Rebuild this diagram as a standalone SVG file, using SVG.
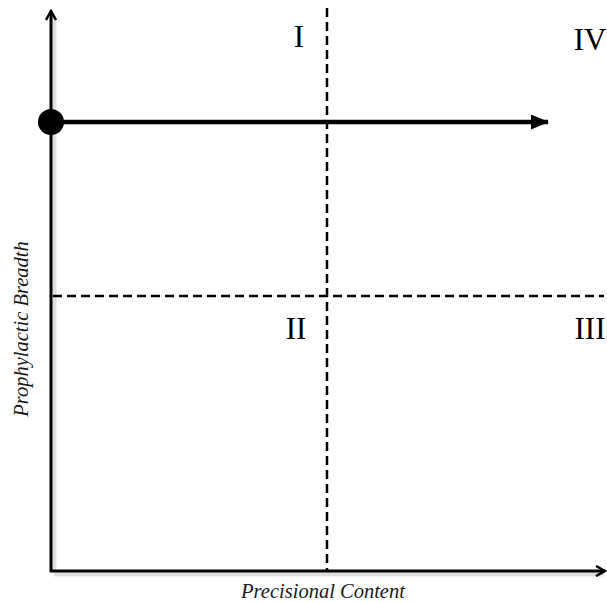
<svg xmlns="http://www.w3.org/2000/svg" width="607" height="603" viewBox="0 0 607 603">
<defs>
<style>
.axis{stroke:#000;stroke-width:3;fill:none}
.dash{stroke:#000;stroke-width:2.5;stroke-dasharray:9 5;fill:none}
.quad{font-family:"Liberation Serif",serif;font-size:31px;fill:#000}
.lab{font-family:"Liberation Serif",serif;font-style:italic;font-size:20.5px;fill:#1a1a1a}
.shadow{stroke:#000;opacity:0.12;fill:none}
</style>
<marker id="open" viewBox="0 0 12 12" refX="10" refY="6" markerWidth="12" markerHeight="12" markerUnits="userSpaceOnUse" orient="auto">
<path d="M1,1 L10,6 L1,11" fill="none" stroke="#000" stroke-width="2.5"/>
</marker>
<marker id="solid" viewBox="0 0 18 15" refX="17" refY="7.5" markerWidth="18" markerHeight="15" markerUnits="userSpaceOnUse" orient="auto">
<path d="M0,0 L18,7.5 L0,15 Z" fill="#000"/>
</marker>
</defs>
<g id="connectors">
<path class="shadow" stroke-width="5" d="M54,572 L54,16 M54,574 L604,574"/>
<line id="y-axis" class="axis" x1="51" y1="572" x2="51" y2="11" marker-end="url(#open)"/>
<line id="x-axis" class="axis" x1="50" y1="571" x2="605" y2="571" marker-end="url(#open)"/>
<line id="v-divider" class="dash" x1="327" y1="8" x2="327" y2="571"/>
<line id="h-divider" class="dash" x1="53" y1="296" x2="604" y2="296"/>
<line id="trajectory" stroke="#000" stroke-width="4.5" x1="51" y1="122" x2="548" y2="122" marker-end="url(#solid)"/>
</g>
<g id="start-point"><circle cx="51" cy="122" r="13" fill="#000"/></g>
<g id="q1"><text class="quad" x="299" y="47" text-anchor="middle">I</text></g>
<g id="q2"><text class="quad" x="296" y="339" text-anchor="middle">II</text></g>
<g id="q3"><text class="quad" x="590" y="339" text-anchor="middle">III</text></g>
<g id="q4"><text class="quad" x="590" y="50" text-anchor="middle">IV</text></g>
<g id="x-label"><text class="lab" x="323" y="598" text-anchor="middle">Precisional Content</text></g>
<g id="y-label"><text class="lab" transform="translate(28,329) rotate(-90)" text-anchor="middle">Prophylactic Breadth</text></g>
</svg>
